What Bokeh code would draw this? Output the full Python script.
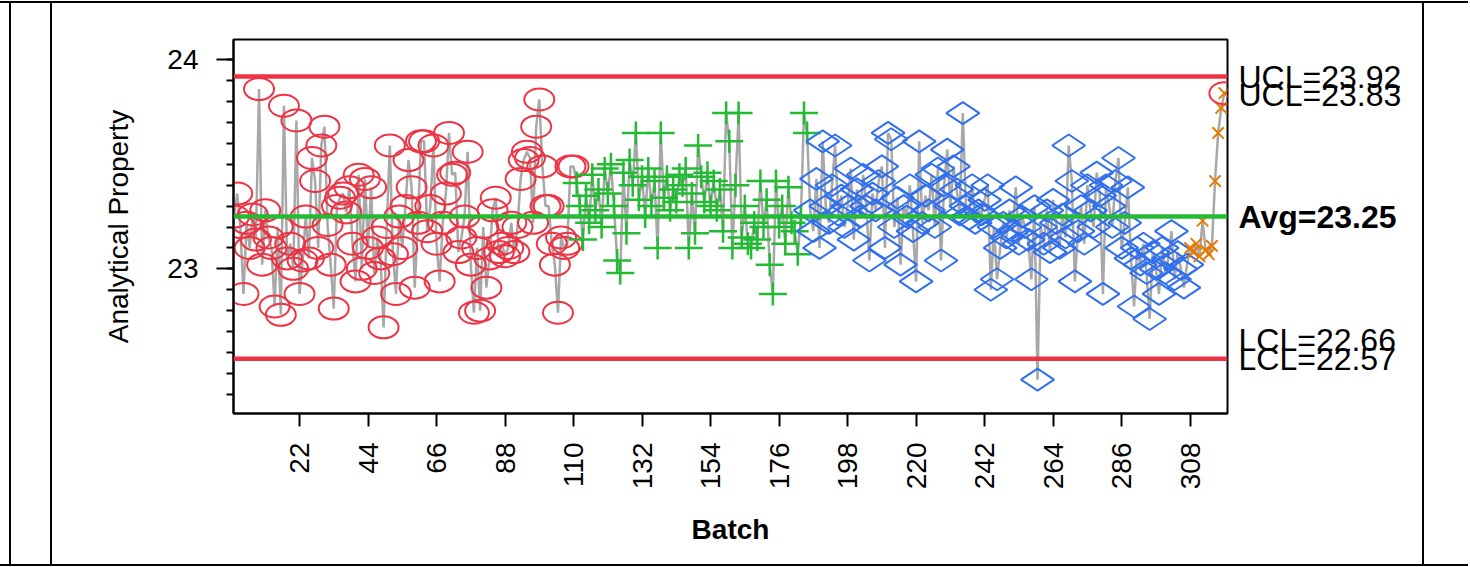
import math
from bokeh.plotting import figure
from bokeh.models import FixedTicker, Span, Div, Spacer
from bokeh.layouts import row, column
from bokeh.core.properties import value
from bokeh.embed import file_html
from bokeh.resources import INLINE

# ---------------- data ----------------
red_start = 1
red_vals = [23.25, 23.36, 23.20, 22.88, 23.22, 23.10, 23.26, 23.14, 23.86, 23.02,
            23.28, 23.15, 23.10, 22.82, 23.20, 22.78, 23.78, 23.05, 23.12, 23.00,
            23.71, 22.88, 23.04, 23.25, 23.05, 23.53, 23.42, 23.10, 23.59, 23.68,
            23.21, 23.02, 22.81, 23.30, 23.34, 23.36, 23.27, 23.39, 23.12, 22.94,
            23.45, 23.00, 23.43, 23.10, 23.39, 22.98, 23.15, 23.05, 22.72, 23.20,
            23.59, 23.07, 22.88, 23.25, 23.10, 23.30, 23.52, 23.39, 22.91, 23.22,
            23.61, 23.61, 23.18, 23.30, 23.59, 23.12, 22.94, 23.22, 23.36, 23.65,
            23.45, 23.46, 23.08, 23.15, 23.25, 23.56, 23.02, 22.79, 23.10, 22.80,
            23.20, 22.91, 23.05, 23.28, 23.34, 23.08, 23.12, 23.06, 23.10, 23.22,
            23.08, 23.20, 23.43, 23.52, 23.56, 23.53, 23.22, 23.68, 23.81, 23.49,
            23.30, 23.30, 23.12, 23.02, 22.79, 23.15, 23.10, 23.12, 23.49, 23.49]
green_start = 111
green_vals = [23.41, 23.30, 23.14, 23.35, 23.22, 23.45, 23.28, 23.38, 23.20, 23.48,
              23.36, 23.50, 23.30, 23.04, 22.98, 23.46, 23.17, 23.52, 23.40, 23.65,
              23.33, 23.44, 23.25, 23.48, 23.30, 23.42, 23.10, 23.65, 23.34, 23.44,
              23.28, 23.38, 23.32, 23.45, 23.40, 23.48, 23.10, 23.36, 23.17, 23.59,
              23.44, 23.32, 23.46, 23.30, 23.42, 23.28, 23.38, 23.18, 23.745, 23.61,
              23.10, 23.40, 23.745, 23.15, 23.30, 23.12, 23.10, 23.22, 23.14, 23.42,
              23.20, 23.33, 23.02, 22.88, 23.42, 23.20, 23.30, 23.12, 23.39, 23.22,
              23.18, 23.07, 23.25, 23.745, 23.65]
blue_start = 186
blue_vals = [23.28, 23.18, 23.43, 23.10, 23.61, 23.30, 23.22, 23.40, 23.59, 23.26,
             23.35, 23.20, 23.30, 23.48, 23.14, 23.38, 23.25, 23.45, 23.30, 23.04,
             23.36, 23.28, 23.42, 23.49, 23.10, 23.65, 23.62, 23.20, 23.34, 23.02,
             23.30, 23.25, 23.40, 23.18, 22.94, 23.61, 23.22, 23.35, 23.28, 23.45,
             23.20, 23.48, 23.04, 23.40, 23.57, 23.30, 23.49, 23.38, 23.26, 23.745,
             23.30, 23.24, 23.40, 23.22, 23.28, 23.26, 23.33, 23.40, 22.90, 23.20,
             22.95, 23.10, 23.22, 23.15, 23.28, 23.18, 23.39, 23.12, 23.25, 23.20,
             23.14, 22.95, 23.30, 22.47, 23.20, 23.12, 23.28, 23.08, 23.33, 23.22,
             23.10, 23.26, 23.15, 23.59, 23.42, 22.94, 23.18, 23.30, 23.12, 23.40,
             23.28, 23.20, 23.46, 23.35, 22.88, 23.40, 23.30, 23.20, 23.42, 23.53,
             23.10, 23.22, 23.39, 23.05, 22.82, 23.10, 23.02, 23.12, 22.98, 22.76,
             23.08, 23.00, 22.88, 23.10, 22.98, 23.05, 23.18, 22.95, 23.08, 23.00,
             22.91, 23.02]
orange_start = 308
orange_vals = [23.10, 23.08, 23.12, 23.06, 23.23, 23.09, 23.07, 23.11, 23.42, 23.65,
               23.77, 23.84]
flag_batches = [319]
flag_vals = [23.84]

ucl_value = 23.92
lcl_value = 22.57
avg_value = 23.25
limit_labels = ["UCL=23.92", "UCL=23.83", "LCL=22.66", "LCL=22.57"]
limit_label_values = [23.92, 23.83, 22.66, 22.57]
avg_labels = ["Avg=23.25"]
avg_label_values = [23.25]

x_ticks = [22, 44, 66, 88, 110, 132, 154, 176, 198, 220, 242, 264, 286, 308]
y_major = [23, 24]
y_minor = [22.4, 22.5, 22.6, 22.7, 22.8, 22.9, 23.0, 23.1, 23.2, 23.3, 23.4, 23.5,
           23.6, 23.7, 23.8, 23.9, 24.0, 24.1]

# ---------------- styling ----------------
RED = "#EE3344"
GREEN = "#22BB33"
BLUE = "#3070F0"
ORANGE = "#E87A00"
GRAY = "#A8A8A8"
FONT = "Liberation Sans"
TOP, BOTTOM = 36, 151
FIG_H = 561
FULL_W = 1468


def batches(start, vals):
    return list(range(start, start + len(vals)))


all_x = (batches(red_start, red_vals) + batches(green_start, green_vals)
         + batches(blue_start, blue_vals) + batches(orange_start, orange_vals))
all_y = red_vals + green_vals + blue_vals + orange_vals

p = figure(width=1177, height=FIG_H, x_range=(0.8, 320.0), y_range=(22.308, 24.097),
           output_backend="svg", toolbar_location=None,
           min_border_left=181, min_border_right=2, min_border_top=TOP,
           min_border_bottom=BOTTOM, margin=0)
p.background_fill_color = "white"
p.border_fill_color = "white"
p.grid.visible = False
p.outline_line_color = "black"
p.outline_line_width = 2

# x axis
xa = p.xaxis[0]
xa.ticker = FixedTicker(ticks=x_ticks)
xa.major_label_orientation = math.pi / 2
xa.major_label_text_font = FONT
xa.major_label_text_font_size = "28px"
xa.major_label_text_color = "black"
xa.major_tick_out = 13
xa.major_tick_in = 0
xa.minor_tick_out = 0
xa.minor_tick_in = 0
xa.major_label_standoff = 16
xa.axis_line_width = 2
xa.axis_line_color = "black"
xa.major_tick_line_width = 2
xa.major_tick_line_color = "black"
xa.axis_label = "Batch"
xa.axis_label_text_font = FONT
xa.axis_label_text_font_style = "bold"
xa.axis_label_text_font_size = "28px"
xa.axis_label_text_color = "black"
xa.axis_label_standoff = 22

# y axis
ya = p.yaxis[0]
ya.ticker = FixedTicker(ticks=y_major, minor_ticks=y_minor)
ya.major_label_text_font = FONT
ya.major_label_text_font_size = "28px"
ya.major_label_text_color = "black"
ya.major_tick_out = 17
ya.major_tick_in = 0
ya.minor_tick_out = 7
ya.minor_tick_in = 0
ya.major_label_standoff = 18
ya.axis_line_width = 2
ya.axis_line_color = "black"
ya.major_tick_line_width = 2
ya.major_tick_line_color = "black"
ya.minor_tick_line_width = 2
ya.minor_tick_line_color = "black"
ya.axis_label = "Analytical Property"
ya.axis_label_text_font = FONT
ya.axis_label_text_font_style = "normal"
ya.axis_label_text_font_size = "28px"
ya.axis_label_text_color = "black"
ya.axis_label_standoff = 30

# limit lines
p.add_layout(Span(location=ucl_value, dimension="width", line_color=RED, line_width=4.5))
p.add_layout(Span(location=lcl_value, dimension="width", line_color=RED, line_width=4.5))
p.add_layout(Span(location=avg_value, dimension="width", line_color=GREEN, line_width=4.5))

# connecting line
p.line(all_x, all_y, line_color=GRAY, line_width=2.5)

# markers
p.ellipse(x=batches(red_start, red_vals), y=red_vals, width=30, height=22,
          width_units="screen", height_units="screen",
          fill_color=None, line_color=RED, line_width=2)
gx = batches(green_start, green_vals)
p.scatter(gx, green_vals, marker="dash", size=28, line_color=GREEN, line_width=2.5)
p.scatter(gx, green_vals, marker="dash", size=23, angle=math.pi / 2,
          line_color=GREEN, line_width=2.5)
p.scatter(batches(blue_start, blue_vals), blue_vals, marker="diamond", size=33,
          angle=math.pi / 2, fill_color=None, line_color=BLUE, line_width=2)
p.scatter(batches(orange_start, orange_vals), orange_vals, marker="x", size=16,
          line_color=ORANGE, line_width=2)
p.ellipse(x=flag_batches, y=flag_vals, width=30, height=22,
          width_units="screen", height_units="screen",
          fill_color=None, line_color=RED, line_width=2)

# right-side label panel sharing the y scale
q = figure(width=193, height=FIG_H, x_range=(0, 1), y_range=p.y_range,
           output_backend="svg", toolbar_location=None,
           x_axis_type=None, y_axis_type=None,
           min_border_left=0, min_border_right=0, min_border_top=TOP,
           min_border_bottom=BOTTOM, margin=0)
q.grid.visible = False
q.outline_line_color = None
q.background_fill_color = "white"
q.border_fill_color = "white"
q.text(x=[0.0466] * len(limit_labels), y=limit_label_values, text=limit_labels,
       text_font=value(FONT), text_font_size="32px", text_baseline="middle",
       text_color="black")
q.text(x=[0.0466] * len(avg_labels), y=avg_label_values, text=avg_labels,
       text_font=value(FONT), text_font_size="32px", text_font_style="bold",
       text_baseline="middle", text_color="black")


# outer frame lines
def vline(h):
    return Div(text="", width=2, height=h, margin=0,
               styles={"background-color": "black"})


def hline(w):
    return Div(text="", width=w, height=2, margin=0,
               styles={"background-color": "black"})


def gap(w, h):
    return Spacer(width=w, height=h, margin=0)


middle = row(gap(9, FIG_H), vline(FIG_H), gap(39, FIG_H), vline(FIG_H),
             p, q, vline(FIG_H), gap(44, FIG_H), spacing=0, margin=0)
layout = column(gap(FULL_W, 1), hline(FULL_W), middle, hline(FULL_W),
                spacing=0, margin=0)

open("out.html", "w").write(file_html(layout, INLINE))
